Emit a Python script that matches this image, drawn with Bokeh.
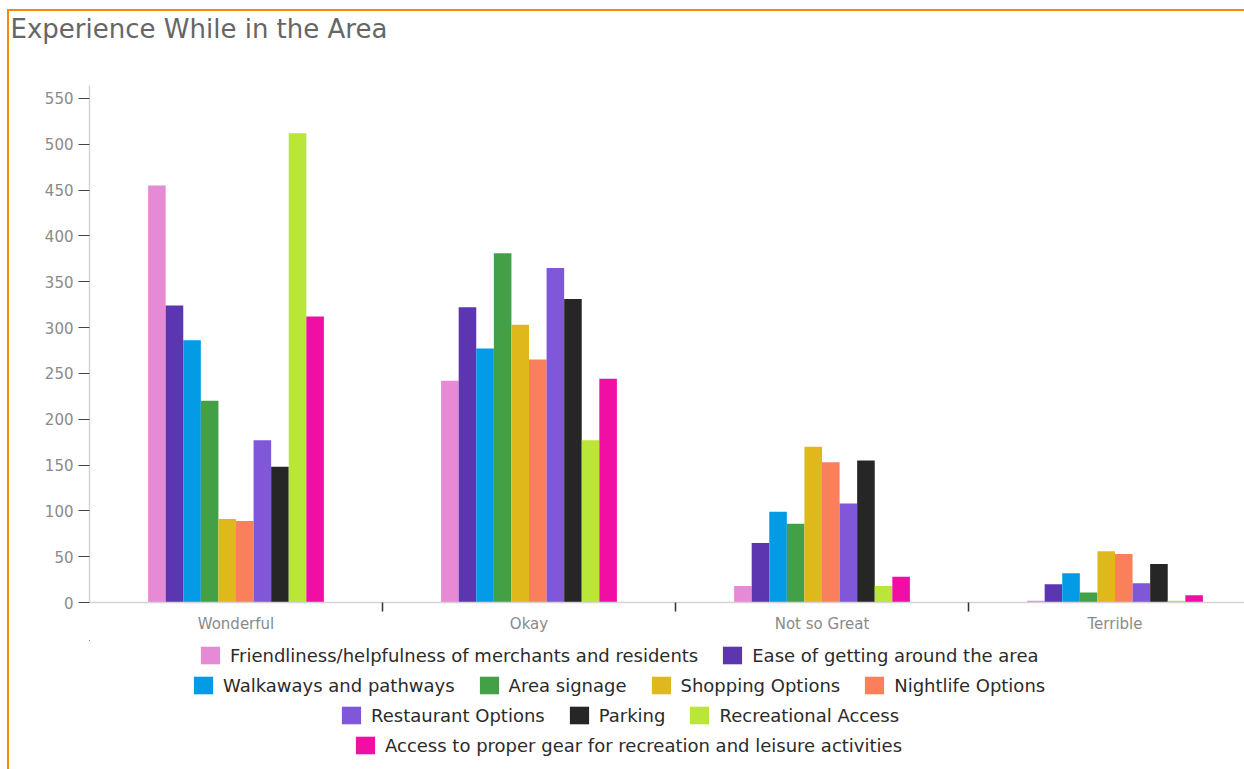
from bokeh.plotting import figure
from bokeh.models import (Range1d, FixedTicker, LinearAxis, Legend, LegendItem,
                          ColumnDataSource, Title)
from bokeh.layouts import column
from bokeh.embed import file_html
from bokeh.resources import INLINE

# Rating categories along the x axis
categories = ["Wonderful", "Okay", "Not so Great", "Terrible"]

# Survey aspects (one bar series each)
series = [
    "Friendliness/helpfulness of merchants and residents",
    "Ease of getting around the area",
    "Walkaways and pathways",
    "Area signage",
    "Shopping Options",
    "Nightlife Options",
    "Restaurant Options",
    "Parking",
    "Recreational Access",
    "Access to proper gear for recreation and leisure activities",
]

# Response counts per category
friendliness = [455, 242, 18, 2]
ease_of_getting_around = [324, 322, 65, 20]
walkways = [286, 277, 99, 32]
area_signage = [220, 381, 86, 11]
shopping = [91, 303, 170, 56]
nightlife = [89, 265, 153, 53]
restaurants = [177, 365, 108, 21]
parking = [148, 331, 155, 42]
recreational_access = [512, 177, 18, 2]
proper_gear = [312, 244, 28, 8]

values = [friendliness, ease_of_getting_around, walkways, area_signage, shopping,
          nightlife, restaurants, parking, recreational_access, proper_gear]

colors = ["#e78ad6", "#5c35b0", "#039be5", "#43a047", "#dfb81c",
          "#f9805a", "#8157da", "#262626", "#b9e639", "#f00fa2"]

y_ticks = list(range(0, 551, 50))

# Legend rows (indices into series) with each row's (left, bottom) offset in the strip
legend_rows = [[0, 1], [2, 3, 4, 5], [6, 7, 8], [9]]
legend_row_pos = [(109, 103), (102, 73), (250, 43), (264, 13)]

FONT = "DejaVu Sans"
BAR_W = 0.06
X_END = 3.942

centers = [i + 0.5 for i in range(len(categories))]
bounds = [float(i) for i in range(1, len(categories))]
n = len(series)


def series_source(si):
    xs = [c + (si - (n - 1) / 2) * BAR_W for c in centers]
    return ColumnDataSource(dict(x=xs, top=values[si]))


p = figure(width=1235, height=629,
           x_range=Range1d(0, X_END), y_range=Range1d(0, 564),
           x_axis_type=None, y_axis_type=None,
           min_border_left=80, min_border_right=0, min_border_top=74,
           min_border_bottom=38,
           output_backend="svg", toolbar_location=None)
p.outline_line_color = None
p.title = None

# blank band between the heading and the plot area
p.add_layout(Title(text=" ", text_font_size="10px", standoff=27), "above")
p.add_layout(Title(text="Experience While in the Area", align="left", offset=-79,
                   vertical_align="top", standoff=0, text_font=FONT,
                   text_font_size="26px", text_font_style="normal",
                   text_color="#666666"), "above")

yaxis = LinearAxis(ticker=FixedTicker(ticks=y_ticks, minor_ticks=[]))
yaxis.axis_line_color = "#d4d4d4"
yaxis.axis_line_width = 1.5
yaxis.major_tick_line_color = "#444444"
yaxis.major_tick_out = 11
yaxis.major_tick_in = 0
yaxis.major_label_standoff = 5
yaxis.major_label_text_color = "#8a8a8a"
yaxis.major_label_text_font = FONT
yaxis.major_label_text_font_size = "15px"
p.add_layout(yaxis, "left")

xaxis = LinearAxis(ticker=FixedTicker(ticks=centers, minor_ticks=bounds))
xaxis.major_label_overrides = {c: name for c, name in zip(centers, categories)}
xaxis.axis_line_color = "#d4d4d4"
xaxis.axis_line_width = 1.5
xaxis.major_tick_line_color = None
xaxis.major_tick_out = 9
xaxis.major_tick_in = 0
xaxis.minor_tick_line_color = "#333333"
xaxis.minor_tick_line_width = 1.5
xaxis.minor_tick_out = 9
xaxis.minor_tick_in = 0
xaxis.major_label_standoff = 3
xaxis.major_label_text_color = "#8a8a8a"
xaxis.major_label_text_font = FONT
xaxis.major_label_text_font_size = "15px"
p.add_layout(xaxis, "below")

for si, col in enumerate(colors):
    p.vbar(x="x", top="top", bottom=0, width=BAR_W, source=series_source(si),
           fill_color=col, line_color=None)

# Legend strip under the chart; its renderers carry the same series but lie
# well outside the strip's visible ranges, so only the legend keys show
lg = figure(width=1235, height=129, x_range=Range1d(20, 21), y_range=Range1d(-20, -19),
            x_axis_type=None, y_axis_type=None, min_border=0,
            output_backend="svg", toolbar_location=None)
lg.outline_line_color = None
lg.title = None
keys = [lg.vbar(x="x", top="top", bottom=0, width=BAR_W, source=series_source(si),
                fill_color=col, line_color=None)
        for si, col in enumerate(colors)]
for row, loc in zip(legend_rows, legend_row_pos):
    leg = Legend(items=[LegendItem(label=series[i], renderers=[keys[i]]) for i in row],
                 orientation="horizontal", location=loc,
                 margin=0, padding=4, spacing=22, label_standoff=8,
                 glyph_width=24, glyph_height=22, label_height=22,
                 label_text_font=FONT, label_text_font_size="18px",
                 label_text_color="#2b2b2b", border_line_color=None,
                 background_fill_alpha=0)
    lg.add_layout(leg)

layout = column(p, lg, spacing=0, margin=(9, 0, 0, 7),
                styles={"border-top": "2px solid #f28a0c",
                        "border-left": "2px solid #f28a0c"})

open("out.html", "w").write(file_html(layout, INLINE))
